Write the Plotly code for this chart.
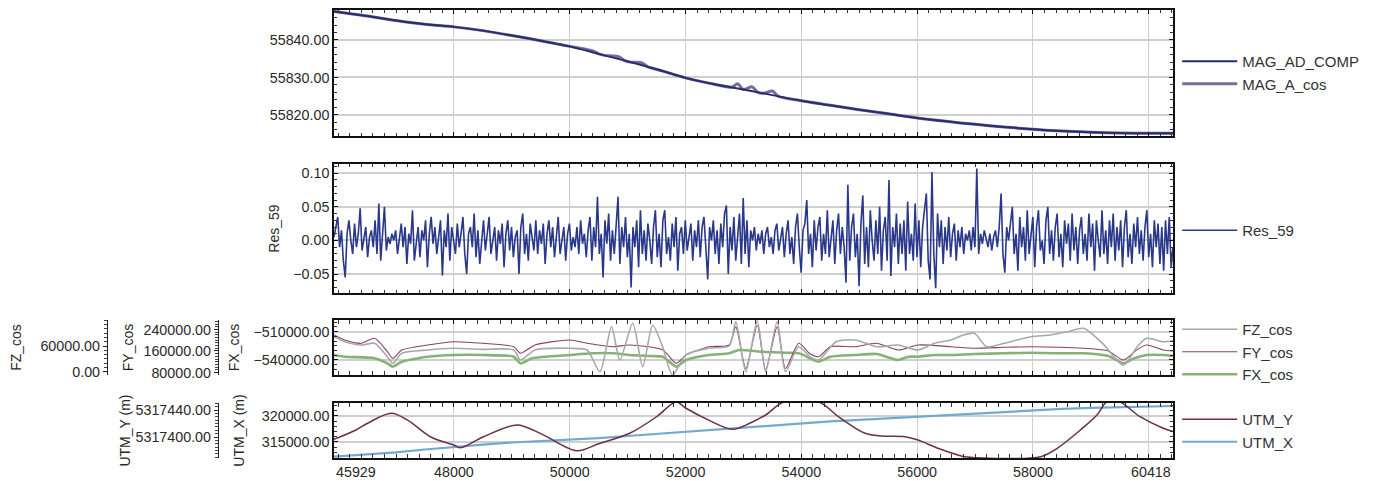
import plotly.graph_objects as go

# ---------------- data ----------------
x_start, x_end = 45929, 60418
x_grid_ticks = [48000, 50000, 52000, 54000, 56000, 58000, 60000]
x_grid_text = ["48000", "50000", "52000", "54000", "56000", "58000", ""]
x_end_labels = [45929, 60418]

mag_comp_x = [45929, 46500, 47000, 47500, 48000, 48500, 49000, 49500, 50000, 50500,
              51000, 51500, 52000, 52500, 53000, 53500, 54000, 54500, 55000, 55500,
              56000, 56500, 57000, 57500, 58000, 58500, 59000, 59500, 60000, 60418]
mag_ad_comp = [55847.6, 55846.4, 55845.2, 55844.2, 55843.5, 55842.5, 55841.2, 55839.8, 55838.3, 55836.3,
               55834.3, 55832.2, 55829.9, 55828.2, 55826.8, 55825.3, 55823.8, 55822.6, 55821.4, 55820.3,
               55819.2, 55818.3, 55817.5, 55816.8, 55816.2, 55815.7, 55815.4, 55815.2, 55815.1, 55815.1]

mag_cos_x = [45929, 46500, 47000, 47500, 48000, 48500, 49000, 49500, 50000, 50400,
             50500, 50600, 50850, 50950, 51050, 51250, 51350, 51450, 52000, 52500,
             52800, 52900, 53000, 53150, 53250, 53350, 53500, 53600, 54000, 54500,
             55000, 55500, 56000, 56500, 57000, 57500, 58000, 58500, 59000, 59500,
             60000, 60418]
mag_a_cos = [55847.6, 55846.4, 55845.2, 55844.2, 55843.5, 55842.5, 55841.2, 55839.8, 55838.3, 55837.1,
             55836.3, 55835.9, 55835.5, 55834.5, 55834.1, 55833.9, 55832.8, 55832.4, 55829.9, 55828.2,
             55827.4, 55828.3, 55826.8, 55827.5, 55826.0, 55825.8, 55826.4, 55825.0, 55823.8, 55822.6,
             55821.4, 55820.3, 55819.2, 55818.3, 55817.5, 55816.8, 55816.2, 55815.7, 55815.4, 55815.2,
             55815.1, 55815.1]

res_59 = [
    0.005, 0.02, 0.035, -0.01, 0.015, -0.03, -0.055, 0.01, 0.03, 0.0,
    -0.02, 0.025, -0.01, 0.01, 0.048, -0.015, 0.0, 0.02, -0.025, 0.005,
    0.015, -0.01, 0.03, -0.02, 0.055, -0.03, 0.01, 0.05, -0.015, 0.005,
    -0.005, 0.01, 0.0, 0.015, -0.02, 0.005, 0.025, -0.01, 0.02, -0.035,
    0.01, -0.005, 0.045, -0.03, 0.0, 0.02, -0.025, 0.015, 0.0, 0.03,
    -0.04, 0.01, 0.035, -0.005, 0.02, -0.02, 0.005, 0.03, -0.052, 0.015,
    -0.01, 0.04, -0.03, 0.02, 0.0, -0.02, 0.025, -0.01, 0.01, 0.035,
    -0.02, -0.05, 0.01, 0.02, -0.01, 0.04, -0.025, 0.015, -0.035, 0.005,
    0.03, -0.015, 0.01, 0.035, -0.02, 0.0, 0.02, -0.03, 0.015, -0.005,
    0.025, -0.04, 0.01, 0.03, -0.015, 0.02, -0.025, 0.005, 0.015, -0.05,
    0.02, 0.04, -0.02, 0.01, -0.03, 0.025, 0.0, -0.015, 0.03, -0.02,
    0.015, -0.005, 0.025, -0.035, 0.01, 0.03, -0.01, 0.02, -0.025, 0.005,
    0.035, -0.02, 0.0, 0.02, -0.03, 0.01, 0.025, -0.015, 0.005, -0.01,
    0.02, -0.02, 0.03, -0.005, 0.01, -0.025, 0.015, 0.035, -0.03, 0.02,
    -0.01, 0.065, -0.02, 0.01, -0.055, 0.03, -0.005, 0.04, -0.03, 0.015,
    -0.02, 0.03, 0.065, -0.035, 0.02, -0.01, 0.035, -0.025, 0.01, -0.07,
    0.02, -0.01, 0.03, -0.04, 0.045, -0.02, 0.015, -0.03, 0.025, 0.0,
    -0.035, 0.02, 0.045, -0.025, 0.01, -0.04, 0.03, 0.045, -0.02, 0.005,
    -0.03, 0.025, -0.01, 0.035, -0.045, 0.01, 0.02, -0.02, 0.03, -0.015,
    0.005, 0.025, -0.03, 0.015, -0.01, 0.03, -0.025, 0.02, 0.035, -0.02,
    -0.058, 0.02, 0.0, 0.03, -0.02, 0.015, -0.035, 0.025, -0.01, 0.04,
    0.052, -0.05, 0.02, -0.015, 0.035, -0.03, 0.01, 0.04, -0.035, 0.063,
    -0.02, 0.03, -0.04, 0.015, 0.0, 0.02, -0.015, 0.01, -0.005, 0.015,
    -0.02, 0.01, 0.02, -0.01, 0.005, -0.02, 0.015, 0.025, -0.015, 0.0,
    0.02, -0.025, 0.01, 0.03, -0.02, 0.005, -0.035, 0.02, 0.04, -0.01,
    -0.048, 0.015, 0.025, 0.06, -0.02, 0.01, -0.04, 0.03, -0.015, 0.02,
    0.035, -0.03, 0.01, -0.02, 0.045, -0.025, 0.0, 0.03, -0.035, 0.015,
    0.04, -0.02, 0.02, -0.01, -0.063, 0.083, -0.03, 0.02, 0.04, -0.025,
    0.01, -0.068, 0.025, 0.067, -0.035, 0.02, -0.04, 0.045, 0.0, -0.03,
    0.03, -0.02, 0.05, -0.045, 0.015, 0.035, -0.03, 0.09, -0.053, 0.02,
    -0.01, 0.04, -0.035, 0.025, -0.02, 0.03, -0.045, 0.058, -0.02, 0.01,
    -0.03, 0.055, -0.025, 0.03, -0.04, 0.02, 0.045, 0.07, -0.03, -0.058,
    0.102, -0.02, -0.071, 0.04, -0.01, 0.03, -0.035, 0.02, -0.015, 0.035,
    -0.025, 0.01, 0.025, -0.03, 0.015, -0.01, 0.02, -0.02, 0.01, 0.0,
    0.015, -0.015, 0.02, -0.01, 0.107, -0.02, 0.01, -0.005, 0.015, 0.0,
    -0.01, 0.01, -0.015, 0.005, 0.015, -0.01, 0.02, 0.07, -0.02, -0.048,
    0.02, 0.0, 0.03, 0.05, -0.02, 0.01, -0.045, 0.035, -0.01, 0.02,
    -0.03, 0.045, -0.02, 0.01, 0.035, -0.04, 0.02, 0.045, -0.015, 0.0,
    -0.035, 0.03, 0.05, -0.02, 0.015, -0.03, 0.02, 0.04, -0.025, 0.01,
    -0.04, 0.03, -0.005, 0.025, -0.03, 0.04, -0.015, 0.02, -0.035, 0.015,
    0.035, -0.02, 0.01, -0.03, 0.04, -0.01, 0.025, -0.045, 0.03, 0.0,
    -0.025, 0.045, -0.02, 0.015, -0.035, 0.03, -0.01, 0.04, -0.03, 0.02,
    -0.015, 0.03, -0.04, 0.02, 0.045, -0.025, 0.01, -0.035, 0.025, -0.01,
    0.035, -0.02, 0.015, -0.03, 0.02, 0.045, -0.025, 0.01, -0.04, 0.03,
    -0.01, 0.025, -0.035, 0.02, -0.045, 0.03, -0.02, 0.035, -0.04, -0.01,
]

fx_x = [45929, 46115, 46630, 46850, 46945, 47100, 47546, 48003, 48500, 49033,
        49148, 49350, 50006, 50400, 50750, 51036, 51400, 51608, 51838, 52010,
        52400, 52753, 52925, 53300, 53700, 53955, 54150, 54298, 54500, 54928,
        55300, 55671, 55850, 56015, 56300, 56581, 56988, 57503, 57960, 58400,
        58876, 59300, 59563, 59750, 59963, 60250, 60418]
fx_cos = [-534700, -536500, -538200, -543500, -547100, -541800, -536500, -534700, -534700, -536500,
          -543500, -538200, -534700, -532900, -532900, -534700, -535800, -536500, -547100, -540000,
          -534700, -532900, -529400, -531200, -532260, -532900, -538200, -541800, -536500, -534700,
          -533640, -540000, -536500, -536500, -534700, -534700, -533640, -532900, -532260, -532900,
          -532900, -535800, -543500, -538200, -534700, -534700, -535800]

fy_x = [45929, 46115, 46400, 46630, 46850, 46945, 47100, 47546, 48003, 48500,
        49033, 49148, 49400, 50006, 50300, 50750, 51036, 51608, 51838, 52010,
        52400, 52753, 52868, 53040, 53239, 53383, 53582, 53726, 53955, 54150,
        54298, 54500, 54928, 55300, 55671, 56015, 56581, 56988, 57503, 57960,
        58876, 59300, 59563, 59800, 59963, 60250, 60418]
fy_cos = [219530, 200930, 188650, 207250, 157400, 132840, 163720, 182330, 194600, 188650,
          176000, 151440, 182330, 200930, 188650, 176000, 182330, 163720, 114230, 145120,
          176000, 182330, 250000, 95000, 255000, 90000, 250000, 95000, 188650, 150000,
          138790, 176000, 176000, 188650, 163720, 182330, 176000, 170050, 173770, 176000,
          170050, 160000, 126510, 165000, 182330, 163720, 160000]

fz_x = [45929, 46115, 46400, 46630, 46850, 46945, 47100, 47546, 48003, 48500,
        49033, 49148, 49400, 50006, 50300, 50521, 50722, 50865, 51088, 51260,
        51432, 51600, 51775, 52010, 52400, 52753, 52868, 53040, 53239, 53383,
        53582, 53726, 53955, 54150, 54298, 54600, 54928, 55300, 55671, 56015,
        56300, 56581, 56800, 56988, 57200, 57503, 57960, 58300, 58600, 58876,
        59200, 59563, 59800, 59963, 60250, 60418]
fz_cos = [81460, 69920, 62310, 66230, 35300, 20080, 43150, 50770, 54690, 52300,
          50770, 27690, 50770, 54690, 50770, 700, 104500, 27690, 112380, 12230,
          108000, 60000, -6920, 40000, 55000, 60000, 116000, 700, 118000, 700,
          116000, 700, 58380, 35000, 27690, 69920, 73850, 58380, 62310, 50770,
          66230, 73850, 85380, 89300, 58380, 66230, 81460, 85380, 93000, 100850,
          66230, 16150, 58380, 77770, 69920, 72000]

utm_x_x = [45929, 46500, 47000, 47500, 48000, 48500, 49000, 49500, 50000, 50500,
           51000, 51500, 52000, 52500, 53000, 53500, 54000, 54500, 55000, 55500,
           56000, 56500, 57000, 57500, 58000, 58500, 59000, 59500, 60000, 60418]
utm_x = [312173, 312600, 313000, 313550, 314096, 314500, 314900, 315150, 315385, 315750,
         316150, 316550, 316980, 317400, 317850, 318250, 318654, 318950, 319250, 319550,
         319865, 320200, 320500, 320850, 321154, 321350, 321550, 321700, 321850, 321923]

utm_y_x = [45929, 46300, 46516, 46916, 47200, 47600, 48000, 48118, 48500, 49091,
           49500, 50121, 50500, 51036, 51500, 51838, 52000, 52400, 52810, 53100,
           53383, 53700, 54300, 54641, 55100, 55380, 55790, 56015, 56359, 56702,
           56816, 58132, 58418, 58818, 59105, 59277, 59500, 59848, 60250, 60418]
utm_y = [5317396.6, 5317410.0, 5317420.7, 5317435.1, 5317425.0, 5317400.0, 5317388.1, 5317384.1, 5317400.0, 5317417.8,
         5317405.0, 5317379.7, 5317390.0, 5317405.5, 5317430.0, 5317452.0, 5317443.0, 5317425.0, 5317411.4, 5317420.0,
         5317432.6, 5317452.0, 5317452.0, 5317430.1, 5317405.5, 5317401.5, 5317400.5, 5317395.6, 5317383.3, 5317373.3,
         5317370.8, 5317370.8, 5317383.3, 5317410.4, 5317432.6, 5317452.0, 5317452.0, 5317430.1, 5317412.9, 5317408.0]

# residual fiducials: regular sampling between first and last fiducial
res_step = (x_end - x_start) / (len(res_59) - 1)
res_x = [x_start + i * res_step for i in range(len(res_59))]

# ---------------- figure ----------------
FONT = "Liberation Sans, Arial, sans-serif"
TXT = "#2a2a2a"
GRID = "#cfcfcf"

fig = go.Figure()

fig.add_trace(go.Scatter(x=mag_cos_x, y=mag_a_cos, name="MAG_A_cos", mode="lines",
                         line=dict(color="#7a6b9c", width=3, shape="spline", smoothing=0.8),
                         xaxis="x", yaxis="y", legend="legend", legendgroup="a2", legendrank=2))
fig.add_trace(go.Scatter(x=mag_comp_x, y=mag_ad_comp, name="MAG_AD_COMP", mode="lines",
                         line=dict(color="#262e6e", width=2, shape="spline", smoothing=0.6),
                         xaxis="x", yaxis="y", legend="legend", legendgroup="a1", legendrank=1))

fig.add_trace(go.Scatter(x=res_x, y=res_59, name="Res_59", mode="lines",
                         line=dict(color="#29388a", width=1.6), xaxis="x2", yaxis="y2",
                         legend="legend2"))

fig.add_trace(go.Scatter(x=fz_x, y=fz_cos, name="FZ_cos", mode="lines",
                         line=dict(color="#a8a8a8", width=1.6, shape="spline", smoothing=0.7),
                         xaxis="x3", yaxis="y5", legend="legend3", legendgroup="c1", legendrank=1))
fig.add_trace(go.Scatter(x=fy_x, y=fy_cos, name="FY_cos", mode="lines",
                         line=dict(color="#8c3d6c", width=1.1, shape="spline", smoothing=0.7),
                         xaxis="x3", yaxis="y4", legend="legend3", legendgroup="c2", legendrank=2))
fig.add_trace(go.Scatter(x=fx_x, y=fx_cos, name="FX_cos", mode="lines",
                         line=dict(color="#86b276", width=2.6, shape="spline", smoothing=0.6),
                         xaxis="x3", yaxis="y3", legend="legend3", legendgroup="c3", legendrank=3))

fig.add_trace(go.Scatter(x=utm_y_x, y=utm_y, name="UTM_Y", mode="lines",
                         line=dict(color="#6b2f48", width=1.5, shape="spline", smoothing=0.9),
                         xaxis="x4", yaxis="y7", legend="legend4", legendgroup="d1", legendrank=1))
fig.add_trace(go.Scatter(x=utm_x_x, y=utm_x, name="UTM_X", mode="lines",
                         line=dict(color="#72aacb", width=2.2), xaxis="x4", yaxis="y6",
                         legend="legend4", legendgroup="d2", legendrank=2))

W, H = 1371, 473          # page body has an 8px margin
PLOT_W = 1165
XDOM = [326 / PLOT_W, 1.0]
TICK_SIZE = 14.3
tickfont = dict(family=FONT, size=TICK_SIZE, color=TXT)
titlefont = dict(family=FONT, size=14, color=TXT)


def xax(anchor, labels):
    return dict(domain=XDOM, range=[x_start, x_end], anchor=anchor,
                tickvals=x_grid_ticks, ticktext=x_grid_text if labels else [""] * len(x_grid_ticks),
                showgrid=True, gridcolor=GRID, gridwidth=1,
                showline=True, linecolor="#111", linewidth=1.5, mirror="allticks",
                ticks="inside", ticklen=4, tickcolor="#111",
                minor=dict(dtick=200, ticks="inside", ticklen=3, tickcolor="#333", showgrid=False),
                tickfont=tickfont, zeroline=False, automargin=False)


def yax(dom, rng, tickvals, fmt, minor_dtick, title=None, standoff=6):
    d = dict(domain=dom, range=rng, tickvals=tickvals, tickformat=fmt,
             showgrid=True, gridcolor=GRID, gridwidth=1.5,
             showline=True, linecolor="#111", linewidth=1.5, mirror="allticks",
             ticks="inside", ticklen=4, tickcolor="#111",
             minor=dict(dtick=minor_dtick, ticks="inside", ticklen=3, tickcolor="#333", showgrid=False),
             tickfont=tickfont, zeroline=False, automargin=False)
    if title:
        d["title"] = dict(text=title, font=titlefont, standoff=standoff)
    return d


def free_y(overlay, dom, rng, tickvals, minor_dtick, pos, title, standoff):
    return dict(overlaying=overlay, anchor="free", position=pos, domain=dom, range=rng,
                tickvals=tickvals, tickformat=".2f", side="left",
                showgrid=False, showline=True, linecolor="#222", linewidth=1.2,
                ticks="outside", ticklen=4, tickcolor="#222",
                minor=dict(dtick=minor_dtick, ticks="outside", ticklen=2.5, tickcolor="#444"),
                tickfont=tickfont, zeroline=False, automargin=False,
                title=dict(text=title, font=titlefont, standoff=standoff))


P1 = [0.7188, 1.0]
P2 = [0.3683, 0.6563]
P3 = [0.1853, 0.3080]
P4 = [0.0, 0.1228]

fig.update_layout(
    width=W, height=H,
    margin=dict(l=0, r=W - PLOT_W, t=2, b=23),
    paper_bgcolor="white", plot_bgcolor="white",
    font=dict(family=FONT, size=13, color=TXT),
    xaxis=xax("y", False),
    xaxis2=xax("y2", False),
    xaxis3=xax("y3", False),
    xaxis4=xax("y6", True),
    yaxis=yax(P1, [55814.4, 55848.0], [55820, 55830, 55840], ".2f", 2),
    yaxis2=yax(P2, [-0.0782, 0.1138], [-0.05, 0.0, 0.05, 0.10], ".2f", 0.01, "Res_59", 10),
    yaxis3=yax(P3, [-555900, -497600], [-540000, -510000], ".2f", 5000, "FX_cos", 11),
    yaxis4=free_y("y3", P3, [70700, 275350], [80000, 160000, 240000], 10000, 210 / PLOT_W, "FY_cos", 5),
    yaxis5=free_y("y3", P3, [-6920, 120000], [0, 60000], 10000, 99 / PLOT_W, "FZ_cos", 16),
    yaxis6=yax(P4, [311920, 322500], [315000, 320000], ".2f", 1000, "UTM_X (m)", 14),
    yaxis7=free_y("y6", P4, [5317368.9, 5317450.4], [5317400, 5317440], 5, 210 / PLOT_W, "UTM_Y (m)", 0),
    showlegend=True,
)

leg_common = dict(xanchor="left", yanchor="top", bgcolor="rgba(0,0,0,0)", itemwidth=55,
                  font=dict(family=FONT, size=15, color="#333"), tracegroupgap=0)
LX = 1.0036
fig.update_layout(
    legend=dict(x=LX, y=(450 - 37) / 448, traceorder="grouped", **leg_common),
    legend2=dict(x=LX, y=(450 - 206) / 448, **leg_common),
    legend3=dict(x=LX, y=(450 - 305) / 448, traceorder="grouped", **leg_common),
    legend4=dict(x=LX, y=(450 - 395) / 448, traceorder="grouped", **leg_common),
)

# end fiducial labels on the bottom axis
fig.add_annotation(x=x_end_labels[0], y=-0.008, xref="x4", yref="paper", text=str(x_end_labels[0]),
                   showarrow=False, xanchor="left", yanchor="top", font=tickfont)
fig.add_annotation(x=x_end_labels[1], y=-0.008, xref="x4", yref="paper", text=str(x_end_labels[1]),
                   showarrow=False, xanchor="right", yanchor="top", font=tickfont)

fig.write_html("out.html")
